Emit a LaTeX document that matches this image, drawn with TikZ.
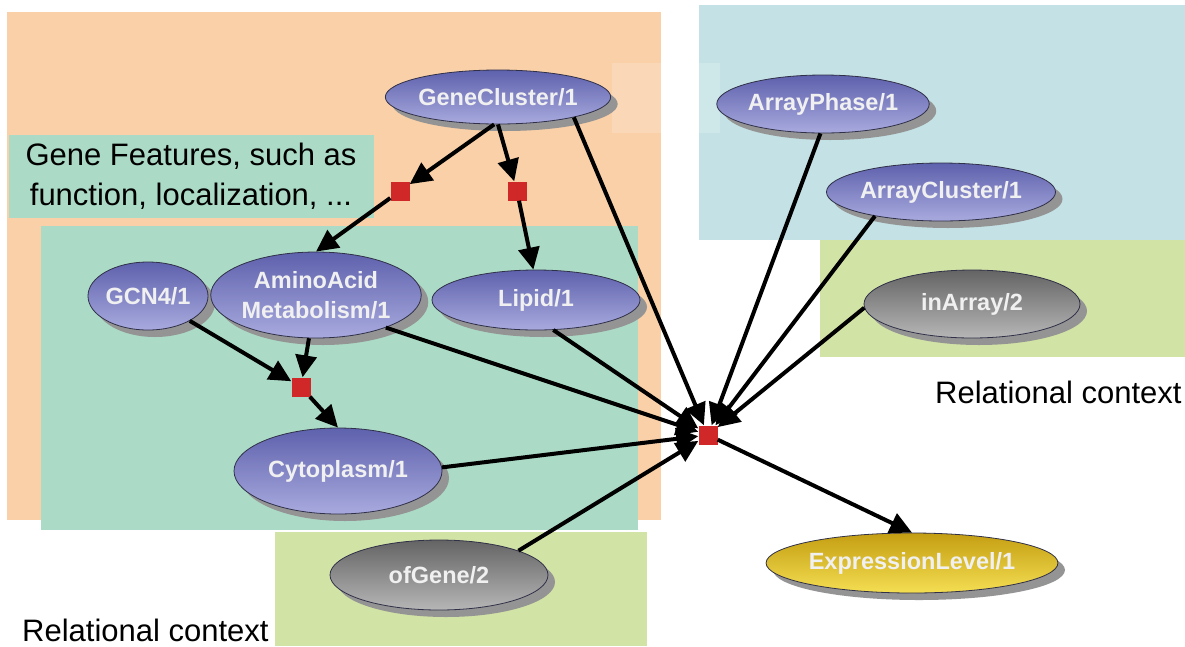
\documentclass[tikz,border=0pt]{standalone}
\usepackage{fontspec}
\setmainfont{Liberation Sans}
\usetikzlibrary{arrows.meta,shapes.geometric,shadows}

\definecolor{orangebg}{HTML}{F9D0A8}
\definecolor{tealbg}{HTML}{ABDBC6}
\definecolor{bluebg}{HTML}{C4E2E5}
\definecolor{greenbg}{HTML}{D2E4A5}
\definecolor{redsq}{HTML}{D02828}
\definecolor{nodeedge}{HTML}{303048}
\definecolor{blueTop}{HTML}{5E61AC}
\definecolor{blueBot}{HTML}{A8AADE}
\definecolor{grayTop}{HTML}{646464}
\definecolor{grayBot}{HTML}{B6B6B6}
\definecolor{goldTop}{HTML}{C49E12}
\definecolor{goldBot}{HTML}{F4DE52}

\begin{document}
\begin{tikzpicture}[x=1pt,y=-1pt,
  predicate/.style={ellipse, draw=nodeedge, line width=0.8pt, inner sep=0pt,
    text=white!94!black, align=center,
    font=\bfseries\fontsize{23.5pt}{30pt}\selectfont,
    drop shadow={shadow xshift=7pt, shadow yshift=-7pt, fill=black!42, opacity=1}},
  featurenode/.style={predicate, top color=blueTop, bottom color=blueBot},
  relnode/.style={predicate, top color=grayTop, bottom color=grayBot},
  targetnode/.style={predicate, top color=goldTop, bottom color=goldBot},
  factor/.style={rectangle, fill=redsq, minimum size=19pt, inner sep=0pt},
  link/.style={line width=4pt, -{Triangle[length=22pt,width=21pt]}},
  caption/.style={font=\fontsize{31pt}{40pt}\selectfont, inner sep=0pt, align=center}]

\useasboundingbox (0,0) rectangle (1185,646);
\fill[white] (0,0) rectangle (1185,646);

% coloured regions
\fill[orangebg] (7,12) rectangle (661,520);
\fill[bluebg] (699,5) rectangle (1185,240);
\fill[greenbg] (820,240) rectangle (1185,357);
\fill[tealbg] (9,135) rectangle (374,218);
\fill[tealbg] (41,226) rectangle (638,530);
\fill[greenbg] (275,532) rectangle (647,646);
\fill[white,opacity=0.18] (612,63) rectangle (720,133);

% captions
\node[caption] (gf) at (191,176) {Gene Features, such as\\function, localization, ...};
\node[caption, anchor=base west] (rc1) at (935,403) {Relational context};
\node[caption, anchor=base west] (rc2) at (22,641) {Relational context};

% predicates
\node[featurenode, minimum width=220pt, minimum height=54pt] (gc) at (498,97) {GeneCluster/1};
\node[featurenode, minimum width=212pt, minimum height=58pt] (ap) at (823,104) {ArrayPhase/1};
\node[featurenode, minimum width=212pt, minimum height=58pt] (ac) at (941,192) {ArrayCluster/1};
\node[relnode, minimum width=216pt, minimum height=68pt] (ia) at (972,304) {inArray/2};
\node[featurenode, minimum width=114pt, minimum height=68pt] (gcn) at (148,296) {GCN4/1};
\node[featurenode, minimum width=206pt, minimum height=86pt] (aa) at (316,295) {AminoAcid\\Metabolism/1};
\node[featurenode, minimum width=208pt, minimum height=60pt] (lp) at (536,300) {Lipid/1};
\node[featurenode, minimum width=208pt, minimum height=86pt] (cy) at (338,471) {Cytoplasm/1};
\node[relnode, minimum width=218pt, minimum height=70pt] (og) at (439,575) {ofGene/2};
\node[targetnode, minimum width=254pt, minimum height=60pt] (ex) at (912,563) {ExpressionLevel/1};

% combining factors
\node[factor] (s1) at (400,191) {};
\node[factor] (s2) at (517,191) {};
\node[factor] (s3) at (301,387) {};
\node[factor] (hub) at (708,435) {};

% connectors
\draw[link] (gc.262) -- (s1);
\draw[link] (gc.270) -- (s2);
\draw[link] (s1) -- (aa.north);
\draw[link] (s2) -- (lp.95);
\draw[link] (gcn) -- (s3);
\draw[link] (aa) -- (s3);
\draw[link] (s3) -- (cy.north);
\draw[link] (gc.-15) -- (hub);
\draw[link] (ap.265) -- (hub);
\draw[link] (ac.200) -- (hub);
\draw[link] (ia.182) -- (hub);
\draw[link] (aa.-25) -- (hub);
\draw[link] (lp.-60) -- (hub);
\draw[link] (cy.2) -- (hub);
\draw[link] (og.17) -- (hub);
\draw[link] (hub) -- (ex.north);
\end{tikzpicture}
\end{document}
